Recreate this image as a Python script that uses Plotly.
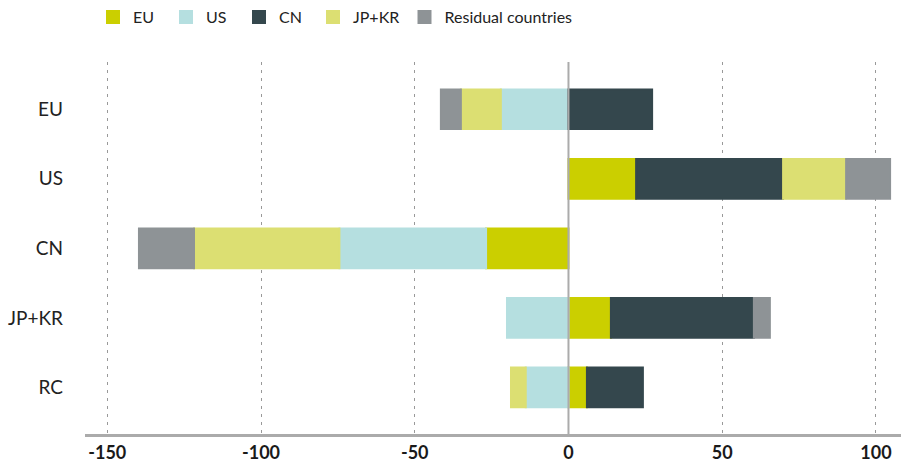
import plotly.graph_objects as go

# ---- data ----
regions = ["EU", "US", "CN", "JP+KR", "RC"]
series_names = ["EU", "US", "CN", "JP+KR", "Residual countries"]
eu_vals = [None, 22.0, -26.8, 13.8, 6.0]
us_vals = [-22.0, None, -47.7, -20.0, -13.9]
cn_vals = [27.2, 47.8, None, 46.5, 18.2]
jpkr_vals = [-13.0, 20.5, -47.3, None, -4.8]
resid_vals = [-6.5, 14.3, -17.9, 5.2, None]
tick_vals = [-150, -100, -50, 0, 50, 100]
tick_text = ["-150", "-100", "-50", "0", "50", "100"]

colors = ["#cbcf00", "#b5dfe0", "#34474d", "#dcdf72", "#8e9396"]
all_vals = [eu_vals, us_vals, cn_vals, jpkr_vals, resid_vals]

# ---- layout geometry (pixels) ----
W_PX, H_PX = 901, 470
L, R, T, B = 85, 0, 60, 36
PW = W_PX - L - R
PH = H_PX - T - B


def px_x(p):
    return (p - L) / PW


def px_y(p):
    return (H_PX - B - p) / PH


FONT = "Lato, 'Open Sans', 'DejaVu Sans', sans-serif"

fig = go.Figure()
legend_ids = ["legend", "legend2", "legend3", "legend4", "legend5"]
for name, vals, col, lg in zip(series_names, all_vals, colors, legend_ids):
    fig.add_trace(go.Bar(
        y=regions, x=vals, name=name, orientation="h",
        marker=dict(color=col, line=dict(color=col, width=2)),
        width=0.57, legend=lg, hoverinfo="x+name",
    ))

# legend symbol centers (pixels)
sym_centers = [113, 186, 259, 333, 424.5]
legend_layout = {}
for lg, cx in zip(legend_ids, sym_centers):
    legend_layout[lg] = dict(
        x=px_x(cx - 20), xanchor="left", y=px_y(14.5), yanchor="middle",
        orientation="h", bgcolor="rgba(0,0,0,0)", borderwidth=0,
        font=dict(family=FONT, size=16, color="#222"),
    )

fig.update_layout(
    width=W_PX, height=H_PX,
    margin=dict(l=L, r=R, t=T, b=B, pad=0),
    paper_bgcolor="white", plot_bgcolor="white",
    barmode="relative", bargap=0.4,
    showlegend=True,
    **legend_layout,
    xaxis=dict(
        range=[-157.25, 108.15], tickvals=tick_vals, ticktext=tick_text,
        showgrid=True, gridcolor="#999999", gridwidth=1, griddash="3px,5px",
        zeroline=False, showline=True, linecolor="#ababab", linewidth=3,
        ticks="", tickfont=dict(family=FONT, size=18, color="#1a1a1a", weight="bold"),
        fixedrange=True, automargin=False,
    ),
    yaxis=dict(
        categoryorder="array", categoryarray=regions,
        range=[4.67, -0.68], showgrid=False, zeroline=False, showline=False,
        ticks="", ticklabelstandoff=21,
        tickfont=dict(family=FONT, size=19, color="#222"),
        fixedrange=True, automargin=False,
    ),
)

fig.add_shape(type="line", xref="x", yref="paper", x0=0, x1=0, y0=0, y1=1,
              line=dict(color="#ababab", width=2), layer="above")

fig.write_html(
    "out.html",
    config={"displayModeBar": False},
    post_script="document.body.style.margin='0';document.body.style.overflow='hidden';",
)
